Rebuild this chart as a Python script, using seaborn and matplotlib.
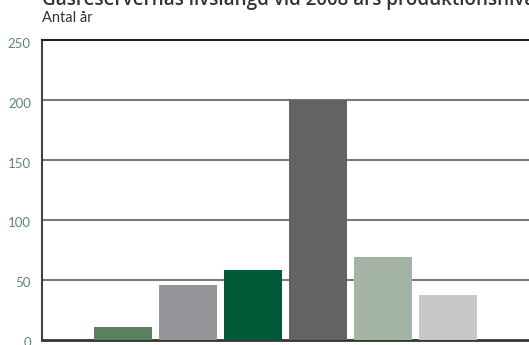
import matplotlib
matplotlib.use("Agg")
import matplotlib.pyplot as plt
import matplotlib.transforms as mtransforms
import seaborn as sns
import pandas as pd

# Reserves-to-production ratio per region, in years
regions = ["A", "B", "C", "D", "E", "F"]
years = [10.4, 45.8, 57.6, 200, 68.5, 37.3]
bar_colors = ["#5a8062", "#949599", "#035a38", "#636365", "#a3b3a4", "#c6c7c9"]
y_ticks = [0, 50, 100, 150, 200, 250]

title = "Gasreservernas livslängd vid 2008 års produktionsnivå"
subtitle = "Antal år"

df = pd.DataFrame({"region": regions, "years": years})

sns.set_theme(style="white")
plt.rcParams["font.family"] = ["Lato", "DejaVu Sans"]

W, H = 529, 345
fig = plt.figure(figsize=(W / 100, H / 100), dpi=100)
left_px, right_px, top_px, bottom_px = 42, 540, 40, 339.5
ax = fig.add_axes([left_px / W, 1 - bottom_px / H,
                   (right_px - left_px) / W, (bottom_px - top_px) / H])

sns.barplot(data=df, x="region", y="years", hue="region",
            palette=bar_colors, width=0.9, dodge=False, legend=False,
            saturation=1, linewidth=0, ax=ax, zorder=3)

unit = 65.0
x0 = -(123 - left_px) / unit
ax.set_xlim(x0, x0 + (right_px - left_px) / unit)
ax.set_ylim(0, 250)
ax.set_yticks(y_ticks)
ax.set_yticklabels([str(v) for v in y_ticks])
ax.set_xticks([])
ax.set_xlabel("")
ax.set_ylabel("")

for v in y_ticks[1:-1]:
    ax.axhline(v, color="#7a7a7a", lw=1.5, zorder=1)

ax.tick_params(axis="y", length=0, pad=8, labelsize=9.5, labelcolor="#5a8a6a")
shift = mtransforms.ScaledTranslation(0, -2 / 72, fig.dpi_scale_trans)
for lbl in ax.get_yticklabels():
    lbl.set_transform(lbl.get_transform() + shift)

for s in ["left", "top", "bottom"]:
    ax.spines[s].set_visible(True)
ax.spines["right"].set_visible(False)
ax.spines["top"].set_color("#222222")
ax.spines["top"].set_linewidth(1.5)
ax.spines["left"].set_color("#444444")
ax.spines["left"].set_linewidth(1.5)
ax.spines["bottom"].set_color("#333333")
ax.spines["bottom"].set_linewidth(2)

fig.text(left_px / W, 1 - 5 / H, title, fontsize=13.6, fontweight="semibold",
         color="#333333", va="baseline", ha="left",
         family=["Open Sans", "DejaVu Sans"])
fig.text(left_px / W, 1 - 21.5 / H, subtitle, fontsize=10.5, color="#333333",
         va="baseline", ha="left")

fig.savefig("out.png", dpi=100)
